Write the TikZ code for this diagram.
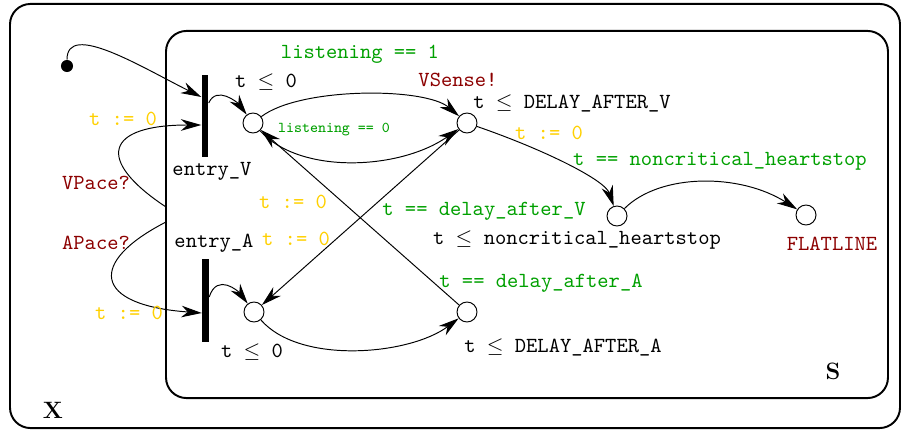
\documentclass[tikz,border=0pt]{standalone}
\usepackage{fontspec}
\usetikzlibrary{arrows.meta}
\definecolor{tyel}{RGB}{255,208,0}
\definecolor{tgrn}{RGB}{0,160,0}
\definecolor{tred}{RGB}{140,0,0}
\begin{document}
\begin{tikzpicture}[x=0.465pt,y=-0.465pt,font=\ttfamily,
  loc/.style={circle,draw,line width=0.45pt,minimum size=9.3pt,inner sep=0pt},
  bar/.style={fill=black,minimum width=3.2pt,inner sep=0pt},
  box/.style={draw,line width=0.9pt,rounded corners=9.5pt,inner sep=0pt},
  txt/.style={inner sep=0pt},
  asg/.style={txt,text=tyel},
  grd/.style={txt,text=tgrn},
  syn/.style={txt,text=tred},
  edge/.style={line width=0.45pt,-{Stealth[length=9.5pt,width=5.4pt,inset=3pt]}},
  lbl/.style={txt,font=\rmfamily\bfseries\fontsize{11}{13}\selectfont}]
\useasboundingbox (0,0) rectangle (902,430);
% boxes
\node[box,minimum width=413.85pt,minimum height=197.2pt] (boxX) at (455,216) {};
\node[box,minimum width=335.7pt,minimum height=170.7pt] (boxS) at (527,214.5) {};
\node[lbl] (labX) at (53,410) {X};
\node[lbl] (labS) at (833,371) {S};
% initial
\node[circle,fill=black,minimum size=5.6pt,inner sep=0pt] (init) at (67,66) {};
% entry bars
\node[bar,minimum height=38.1pt] (barV) at (205,116) {};
\node[bar,minimum height=38.6pt] (barA) at (205.5,300.5) {};
\node[txt] (entV) at (212,171) {entry\_V};
\node[txt] (entA) at (214,243) {entry\_A};
% locations
\node[loc] (V0) at (253,123) {};
\node[loc] (V1) at (467,123) {};
\node[loc] (N) at (617,216) {};
\node[loc] (F) at (806,215) {};
\node[loc] (A0) at (254,312) {};
\node[loc] (A1) at (467,312) {};
% connection points
\coordinate (vin1) at (201.3,97);
\coordinate (vin2) at (201.3,125);
\coordinate (vout) at (208.7,103);
\coordinate (ain) at (201.8,313);
\coordinate (aout) at (209.2,297);
\coordinate (sV) at (166,207);
\coordinate (sA) at (166,222);
% edges
\draw[edge] (init) .. controls +(0,-45) and +(-60,-30) .. (vin1);
\draw[edge] (sV) .. controls (95,160) and (105,125) .. (vin2);
\draw[edge] (sA) .. controls (88,262) and (92,305) .. (ain);
\draw[edge] (vout) .. controls +(8,-18) and +(-15,-20) .. (V0);
\draw[edge] (aout) .. controls +(8,-25) and +(-15,-20) .. (A0);
\draw[edge] (V0) .. controls (300,87) and (425,87) .. (V1);
\draw[edge] (V0) .. controls (300,175) and (400,170) .. (V1);
\draw[edge] (V1) -- (A0);
\draw[edge] (A1) -- (V0);
\draw[edge] (A0) .. controls (300,365) and (410,355) .. (A1);
\draw[edge] (V1) .. controls (545,150) and (605,180) .. (N);
\draw[edge] (N) .. controls (660,173) and (740,173) .. (F);
% labels
\node[txt] (invV0) at (266,82) {t $\leq$ 0};
\node[txt] (invA0) at (252,352) {t $\leq$ 0};
\node[txt] (invV1) at (572,103) {t $\leq$ DELAY\_AFTER\_V};
\node[txt] (invA1) at (563,347) {t $\leq$ DELAY\_AFTER\_A};
\node[txt] (invN) at (577,240) {t $\leq$ noncritical\_heartstop};
\node[syn] (flat) at (832,244) {FLATLINE};
\node[grd] (g1) at (360,54) {listening == 1};
\node[syn] (vs) at (458,80) {VSense!};
\node[grd,font=\ttfamily\fontsize{7}{8}\selectfont] (g0) at (334,130) {listening == 0};
\node[asg] (a1) at (549,133) {t := 0};
\node[grd] (g2) at (720,161) {t == noncritical\_heartstop};
\node[asg] (a2) at (123,119) {t := 0};
\node[syn] (vp) at (96,183) {VPace?};
\node[syn] (ap) at (96,243) {APace?};
\node[asg] (a3) at (129,313) {t := 0};
\node[asg] (a4) at (293,202) {t := 0};
\node[asg] (a5) at (296,239) {t := 0};
\node[grd] (g3) at (484,211) {t == delay\_after\_V};
\node[grd] (g4) at (541,283) {t == delay\_after\_A};
\end{tikzpicture}
\end{document}
